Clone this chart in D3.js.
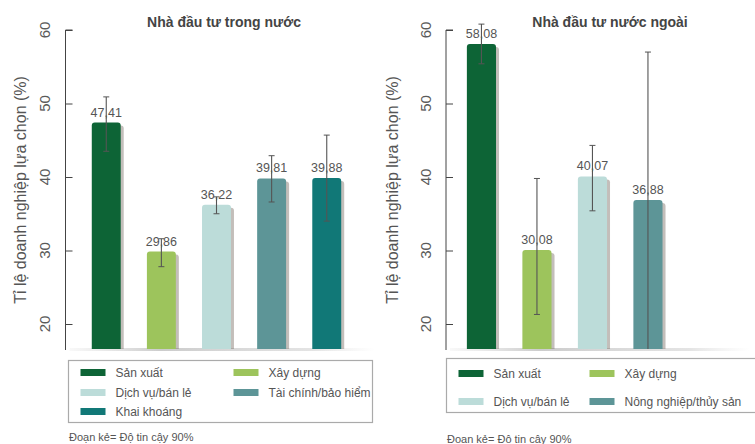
<!DOCTYPE html>
<html><head><meta charset="utf-8">
<script src="https://cdn.jsdelivr.net/npm/d3@7"></script>
<style>body{margin:0;background:#fff}svg{display:block}text{font-family:"Liberation Sans",Arial,sans-serif}</style>
</head><body>
<svg id="c" width="755" height="444"></svg>
<script>
const leftCategories = ["Sản xuất","Xây dựng","Dịch vụ/bán lẻ","Tài chính/bảo hiểm","Khai khoáng"];
const leftValues = [47.41, 29.86, 36.22, 39.81, 39.88];
const leftLow = [43.5, 27.8, 35.0, 36.6, 34.0];
const leftHigh = [50.9, 31.6, 37.3, 42.9, 45.7];
const leftLabels = ["47,41","29,86","36,22","39,81","39,88"];

const rightCategories = ["Sản xuất","Xây dựng","Dịch vụ/bán lẻ","Nông nghiệp/thủy sản"];
const rightValues = [58.08, 30.08, 40.07, 36.88];
const rightLow = [55.4, 21.3, 35.4, 10];
const rightHigh = [60.8, 39.8, 44.3, 57.0];
const rightLabels = ["58,08","30,08","40,07","36,88"];

const yTicks = [20, 30, 40, 50, 60];
const colors = {"Sản xuất":"#0d6436","Xây dựng":"#9dc45c","Dịch vụ/bán lẻ":"#bcdcd9","Tài chính/bảo hiểm":"#5d9597","Khai khoáng":"#117877","Nông nghiệp/thủy sản":"#5d9597"};

const svg = d3.select("#c");
const defs = svg.append("defs");
const g1 = defs.append("linearGradient").attr("id","baseSh").attr("x1",0).attr("x2",1);
g1.append("stop").attr("offset","0").attr("stop-color","#bbb").attr("stop-opacity",0.1);
g1.append("stop").attr("offset","0.3").attr("stop-color","#aaa").attr("stop-opacity",0.6);
g1.append("stop").attr("offset","0.8").attr("stop-color","#bbb").attr("stop-opacity",0.4);
g1.append("stop").attr("offset","1").attr("stop-color","#ccc").attr("stop-opacity",0);

const y = d3.scaleLinear().domain([16.6, 60]).range([349, 30]);

function topRounded(x, yt, w, yb, r){
  return `M${x},${yb}V${yt+r}Q${x},${yt} ${x+r},${yt}H${x+w-r}Q${x+w},${yt} ${x+w},${yt+r}V${yb}Z`;
}

function panel(o){
  const g = svg.append("g");
  const x = d3.scaleBand().domain(o.cats).range(o.xr).paddingInner(0.475).paddingOuter(0.25);
  g.append("rect").attr("x", o.axisX+4).attr("y", y.range()[0]-1).attr("width", o.shW).attr("height", 3).attr("fill","url(#baseSh)");
  const ax = g.append("g").attr("transform",`translate(${o.axisX},0)`)
    .call(d3.axisRight(y).tickValues(yTicks).tickSize(7).tickFormat(""));
  ax.select(".domain").attr("stroke","#444").attr("d",`M0,${y(60)}V${y.range()[0]+1}M0,${y(60)}H7`);
  ax.selectAll(".tick line").attr("stroke","#444");
  g.selectAll(".tl").data(yTicks).join("text")
    .attr("transform", d=>`translate(${o.tickLX},${y(d)}) rotate(-90)`)
    .attr("text-anchor","middle").attr("font-size",15).attr("fill","#5a5a5a").text(d=>d);
  g.append("text").attr("transform",`translate(${o.ylabX},190) rotate(-90)`)
    .attr("text-anchor","middle").attr("font-size",16).attr("fill","#555").text("Tỉ lệ doanh nghiệp lựa chọn (%)");
  g.append("text").attr("x",o.titleX).attr("y",27).attr("text-anchor","middle")
    .attr("font-size",14).attr("font-weight","bold").attr("fill","#444").text(o.title);
  const data = o.cats.map((c,i)=>({c, v:o.vals[i], lo:o.lo[i], hi:o.hi[i], lab:o.labs[i]}));
  const yb = y.range()[0];
  g.selectAll(".sh").data(data).join("path")
    .attr("d", d=>topRounded(x(d.c)+3, y(d.v)+3, x.bandwidth(), yb, 3))
    .attr("fill","#7b6f66").attr("opacity",0.45);
  g.selectAll(".bar").data(data).join("path")
    .attr("d", d=>topRounded(x(d.c), y(d.v), x.bandwidth(), yb, 3))
    .attr("fill", d=>colors[d.c]);
  const clampY = v => y(Math.max(v, y.domain()[0]));
  g.selectAll(".eb").data(data).join("line")
    .attr("x1", d=>x(d.c)+x.bandwidth()/2).attr("x2", d=>x(d.c)+x.bandwidth()/2)
    .attr("y1", d=>clampY(d.lo)).attr("y2", d=>clampY(d.hi))
    .attr("stroke","#555").attr("stroke-width",1.1);
  const caps = [];
  data.forEach(d=>{ caps.push({d, v:d.hi}); if(d.lo>=y.domain()[0]) caps.push({d, v:d.lo}); });
  g.selectAll(".cap").data(caps).join("line")
    .attr("x1", c=>x(c.d.c)+x.bandwidth()/2-3).attr("x2", c=>x(c.d.c)+x.bandwidth()/2+3)
    .attr("y1", c=>y(c.v)).attr("y2", c=>y(c.v)).attr("stroke","#555").attr("stroke-width",1);
  g.selectAll(".vl").data(data).join("text")
    .attr("x", d=>x(d.c)+x.bandwidth()/2).attr("y", d=>y(d.v)-6)
    .attr("text-anchor","middle").attr("font-size",12.5).attr("fill","#555").text(d=>d.lab);
  const L = o.leg;
  g.append("rect").attr("x",L.x).attr("y",L.y).attr("width",L.w).attr("height",L.h)
    .attr("fill","#fff").attr("stroke","#aaa").attr("stroke-width",1.2);
  g.selectAll(".li").data(o.cats).join("g")
    .attr("transform",(c,i)=>`translate(${L.x + (i%2)*L.colW + 12},${L.rowY[Math.floor(i/2)]})`)
    .each(function(c){
      const s = d3.select(this);
      s.append("rect").attr("x",0).attr("y",-8).attr("width",25).attr("height",7).attr("fill",colors[c]);
      s.append("text").attr("x",35).attr("y",0).attr("font-size",12).attr("fill","#555").text(c);
    });
  g.append("text").attr("x",o.footX).attr("y",o.footY).attr("font-size",11).attr("fill","#555").text("Đoạn kẻ= Độ tin cậy 90%");
}

panel({cats:leftCategories, vals:leftValues, lo:leftLow, hi:leftHigh, labs:leftLabels,
  xr:[78,355], axisX:65.5, tickLX:50, ylabX:26, titleX:224, title:"Nhà đầu tư trong nước", shW:305,
  leg:{x:68.5,y:360.5,w:304,h:62,colW:153,rowY:[377,397,416]}, footX:69, footY:441});
panel({cats:rightCategories, vals:rightValues, lo:rightLow, hi:rightHigh, labs:rightLabels,
  xr:[453,676.4], axisX:446, tickLX:431, ylabX:398, titleX:610, title:"Nhà đầu tư nước ngoài", shW:300,
  leg:{x:446.5,y:358.5,w:320,h:54,colW:131,rowY:[378,406]}, footX:447, footY:443});
</script>
</body></html>
